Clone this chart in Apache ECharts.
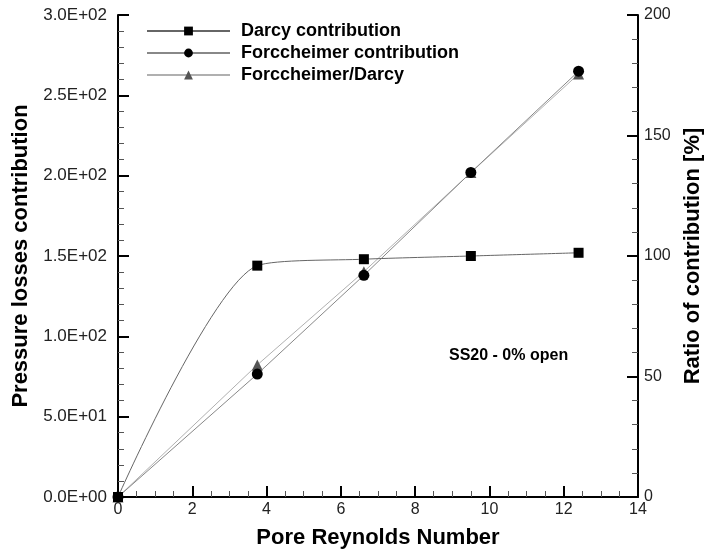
<!DOCTYPE html>
<html>
<head>
<meta charset="utf-8">
<script src="https://cdn.jsdelivr.net/npm/echarts@6/dist/echarts.min.js"></script>
<style>
  html, body { margin: 0; padding: 0; background: #fff; }
  #chart { width: 715px; height: 550px; }
</style>
</head>
<body>
<div id="chart"></div>
<script>
// values
var reynolds = [0, 3.75, 6.62, 9.5, 12.4];
var darcy = [0, 144, 148, 150, 152];
var forch = [0, 76.5, 138, 202, 265];
var ratio = [0, 54.8, 93.5, 134.6, 175.5];

var xTicks = [0, 2, 4, 6, 8, 10, 12, 14];
var leftTicks = [0, 50, 100, 150, 200, 250, 300];
var rightTicks = [0, 50, 100, 150, 200];

function pairs(xs, ys) {
  return xs.map(function (x, i) { return [x, ys[i]]; });
}

function sci(v) {
  if (v === 0) return '0.0E+00';
  var e = Math.floor(Math.log10(Math.abs(v)));
  var m = v / Math.pow(10, e);
  var es = (e < 0 ? '-' : '+') + (Math.abs(e) < 10 ? '0' : '') + Math.abs(e);
  return m.toFixed(1) + 'E' + es;
}

var font = 'Liberation Sans, Arial, sans-serif';

var axisCommon = {
  axisLine: { show: true, lineStyle: { color: '#000', width: 2 } },
  axisTick: { show: true, inside: true, length: 11, lineStyle: { color: '#000', width: 2 } },
  minorTick: { show: true, length: 6, lineStyle: { color: '#555', width: 1 } },
  splitLine: { show: false },
  axisLabel: { color: '#222', fontSize: 16, fontFamily: font },
  nameTextStyle: { color: '#000', fontSize: 22, fontWeight: 'bold', fontFamily: font }
};

var chart = echarts.init(document.getElementById('chart'));
var option = {
  animation: false,
  backgroundColor: '#fff',
  grid: { left: 118, right: 77, top: 15, bottom: 53, containLabel: false, outerBoundsMode: 'none' },
  legend: {
    orient: 'vertical',
    left: 141,
    top: 17,
    itemWidth: 83,
    itemHeight: 11,
    itemGap: 4,
    textStyle: { color: '#000', fontSize: 18, fontWeight: 'bold', fontFamily: font, padding: [0, 0, 0, 6] },
    data: ['Darcy contribution', 'Forccheimer contribution', 'Forccheimer/Darcy']
  },
  xAxis: Object.assign({}, axisCommon, {
    type: 'value',
    min: xTicks[0],
    max: xTicks[xTicks.length - 1],
    interval: 2,
    minorTick: Object.assign({}, axisCommon.minorTick, { splitNumber: 4 }),
    name: 'Pore Reynolds Number',
    nameLocation: 'middle',
    nameGap: 30,
    axisLabel: Object.assign({}, axisCommon.axisLabel, { margin: 5 })
  }),
  yAxis: [
    Object.assign({}, axisCommon, {
      type: 'value',
      min: leftTicks[0],
      max: leftTicks[leftTicks.length - 1],
      interval: 50,
      minorTick: Object.assign({}, axisCommon.minorTick, { splitNumber: 5 }),
      name: 'Pressure losses contribution',
      nameLocation: 'middle',
      nameGap: 80,
      axisLabel: Object.assign({}, axisCommon.axisLabel, { margin: 11, fontSize: 17, formatter: sci })
    }),
    Object.assign({}, axisCommon, {
      type: 'value',
      position: 'right',
      min: rightTicks[0],
      max: rightTicks[rightTicks.length - 1],
      interval: 50,
      minorTick: Object.assign({}, axisCommon.minorTick, { splitNumber: 5 }),
      name: 'Ratio of contribution [%]',
      nameLocation: 'middle',
      nameRotate: 90,
      nameGap: 44,
      axisLabel: Object.assign({}, axisCommon.axisLabel, { margin: 6 })
    })
  ],
  graphic: [{
    type: 'text',
    left: 449,
    top: 348,
    style: { text: 'SS20 - 0% open', fill: '#000', fontSize: 16, fontWeight: 'bold', fontFamily: font }
  }],
  series: [
    {
      name: 'Forccheimer/Darcy',
      type: 'line',
      yAxisIndex: 1,
      data: pairs(reynolds, ratio),
      symbol: 'triangle',
      symbolSize: 11,
      z: 2,
      lineStyle: { color: '#b0b0b0', width: 1 },
      itemStyle: { color: '#555' }
    },
    {
      name: 'Forccheimer contribution',
      type: 'line',
      data: pairs(reynolds, forch),
      symbol: 'circle',
      symbolSize: 11,
      z: 3,
      lineStyle: { color: '#888', width: 1 },
      itemStyle: { color: '#000' }
    },
    {
      name: 'Darcy contribution',
      type: 'line',
      data: pairs(reynolds, darcy),
      symbol: 'rect',
      symbolSize: 10,
      smooth: 0.25,
      z: 4,
      lineStyle: { color: '#666', width: 1 },
      itemStyle: { color: '#000' }
    }
  ]
};
chart.setOption(option);
</script>
</body>
</html>
